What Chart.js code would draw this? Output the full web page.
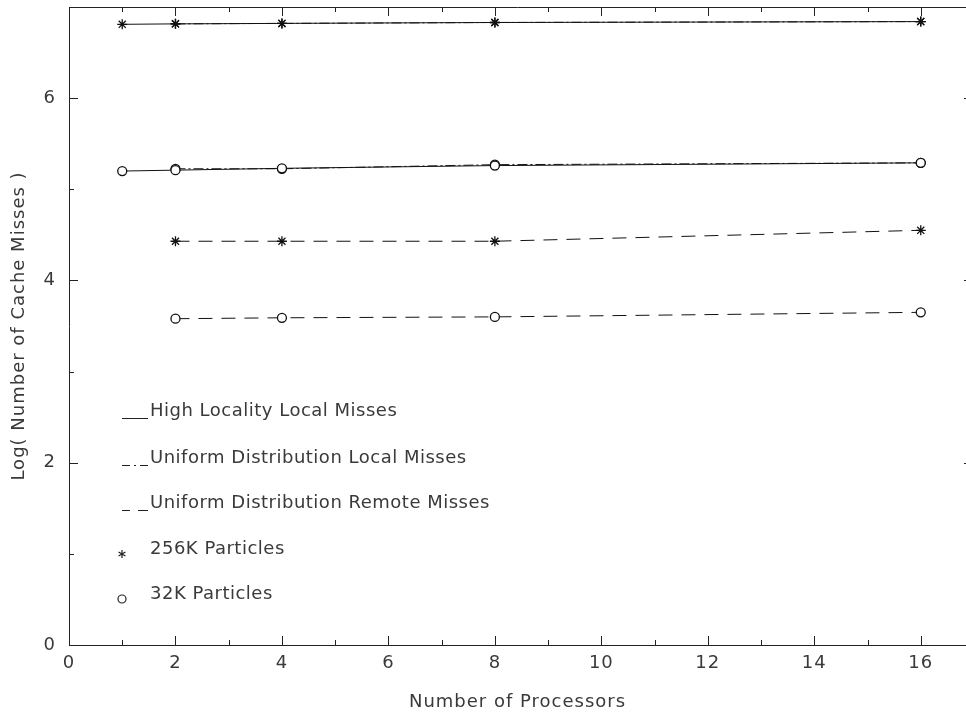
<!DOCTYPE html>
<html>
<head>
<meta charset="utf-8">
<script src="https://cdn.jsdelivr.net/npm/chart.js@4/dist/chart.umd.min.js"></script>
<style>
  body { margin: 0; background: #fff; }
  #wrap { width: 966px; height: 712px; }
</style>
</head>
<body>
<div id="wrap"><canvas id="graph-canvas" width="966" height="712"></canvas></div>
<script>
// processor counts
const procsAll = [1, 2, 4, 8, 16];
const procsUniform = [2, 4, 8, 16];

// log(cache misses), 256K particles
const highLocal256 = [6.81, 6.815, 6.82, 6.83, 6.84];
const uniLocal256 = [6.815, 6.82, 6.83, 6.84];
const uniRemote256 = [4.43, 4.43, 4.43, 4.55];

// log(cache misses), 32K particles
const highLocal32 = [5.20, 5.21, 5.23, 5.26, 5.29];
const uniLocal32 = [5.225, 5.225, 5.27, 5.29];
const uniRemote32 = [3.58, 3.59, 3.60, 3.65];

const xTickLabels = [0, 2, 4, 6, 8, 10, 12, 14, 16];
const yTickLabels = [0, 2, 4, 6];

const legendLabels = [
  "High Locality Local Misses",
  "Uniform Distribution Local Misses",
  "Uniform Distribution Remote Misses",
  "256K Particles",
  "32K Particles"
];

const FONT = "'DejaVu Sans', sans-serif";
const INK = "#3a3a3a";

const pts = (xs, ys) => xs.map((x, i) => ({ x: x, y: ys[i] }));

const solid = [];
const dashDot = [10, 3, 2, 3];
const dashed = [14, 9];

const mkSet = (label, xs, ys, dash, marker) => ({
  label: label,
  data: pts(xs, ys),
  borderColor: "#111",
  backgroundColor: "rgba(0,0,0,0)",
  borderWidth: 1,
  borderDash: dash,
  pointStyle: marker,
  pointRadius: marker === "star" ? 5 : 4.5,
  pointBorderColor: "#111",
  pointBorderWidth: 1.3,
  pointBackgroundColor: "#fff",
  tension: 0
});

// wider letter spacing, like the plotter font of the original
const spacing = {
  id: "spacing",
  beforeDraw(chart) { chart.ctx.letterSpacing = "1px"; },
  afterDraw(chart) { chart.ctx.letterSpacing = "0px"; }
};

// tick marks, top border and hand-drawn legend
const frameAndLegend = {
  id: "frameAndLegend",
  afterDatasetsDraw(chart) {
    const { ctx, chartArea: a, scales: { x, y } } = chart;
    ctx.save();
    ctx.strokeStyle = "#222";
    ctx.lineWidth = 1;
    ctx.beginPath();
    ctx.moveTo(a.left, a.top + 0.5);
    ctx.lineTo(a.right, a.top + 0.5);
    for (let v = 1; v <= 16; v++) {
      const px = Math.round(x.getPixelForValue(v)) + 0.5;
      const len = v % 2 === 0 ? 9 : 5;
      ctx.moveTo(px, a.bottom);
      ctx.lineTo(px, a.bottom - len);
      ctx.moveTo(px, a.top);
      ctx.lineTo(px, a.top + len);
    }
    for (let v = 1; v <= 6; v++) {
      const py = Math.round(y.getPixelForValue(v)) + 0.5;
      const len = v % 2 === 0 ? 9 : 5;
      ctx.moveTo(a.left, py);
      ctx.lineTo(a.left + len, py);
      if (v % 2 === 0) {
        ctx.moveTo(a.right, py);
        ctx.lineTo(a.right - 2, py);
      }
    }
    ctx.stroke();

    // legend
    const lx = 122, tx = 150;
    const rows = [411, 458, 503, 549, 594];
    ctx.font = "18px " + FONT;
    ctx.letterSpacing = "0.5px";
    ctx.fillStyle = INK;
    ctx.textBaseline = "middle";
    ctx.textAlign = "left";
    legendLabels.forEach((t, i) => ctx.fillText(t, tx, rows[i]));

    ctx.strokeStyle = "#222";
    const base = (r) => r + 7.5;
    const seg = (x0, x1, r) => {
      ctx.beginPath();
      ctx.moveTo(x0, base(r));
      ctx.lineTo(x1, base(r));
      ctx.stroke();
    };
    seg(lx, 148, rows[0]);
    seg(lx, 130, rows[1]);
    seg(134, 136, rows[1]);
    seg(140, 148, rows[1]);
    seg(lx, 130, rows[2]);
    seg(138, 148, rows[2]);

    // markers
    ctx.lineWidth = 1.2;
    const sx = 122, sy = rows[3] + 5;
    ctx.beginPath();
    for (let k = 0; k < 3; k++) {
      const ang = Math.PI / 2 + k * Math.PI / 3;
      ctx.moveTo(sx + 4 * Math.cos(ang), sy + 4 * Math.sin(ang));
      ctx.lineTo(sx - 4 * Math.cos(ang), sy - 4 * Math.sin(ang));
    }
    ctx.stroke();
    ctx.beginPath();
    ctx.arc(122, rows[4] + 5, 4, 0, Math.PI * 2);
    ctx.stroke();
    ctx.restore();
  }
};

const ctx = document.getElementById("graph-canvas").getContext("2d");

new Chart(ctx, {
  type: "line",
  data: {
    datasets: [
      mkSet("256K high locality local", procsAll, highLocal256, solid, "star"),
      mkSet("256K uniform local", procsUniform, uniLocal256, dashDot, "star"),
      mkSet("256K uniform remote", procsUniform, uniRemote256, dashed, "star"),
      mkSet("32K high locality local", procsAll, highLocal32, solid, "circle"),
      mkSet("32K uniform local", procsUniform, uniLocal32, dashDot, "circle"),
      mkSet("32K uniform remote", procsUniform, uniRemote32, dashed, "circle")
    ]
  },
  options: {
    responsive: false,
    maintainAspectRatio: false,
    animation: false,
    layout: { autoPadding: false, padding: { top: 7, right: 0, left: 0, bottom: 0 } },
    plugins: {
      legend: { display: false },
      tooltip: { enabled: false },
      title: { display: false }
    },
    scales: {
      x: {
        type: "linear",
        min: 0,
        max: 16.85,
        afterFit: (s) => {
          s.height = 67;
          s.paddingLeft = 0;
          s.paddingRight = 0;
        },
        afterBuildTicks: (s) => {
          s.ticks = xTickLabels.map((v) => ({ value: v }));
        },
        grid: { display: false, drawTicks: false },
        border: { display: true, color: "#222", width: 1 },
        ticks: {
          padding: 8,
          color: INK,
          font: { family: FONT, size: 18 },
          maxRotation: 0,
          autoSkip: false
        },
        title: {
          display: true,
          text: "Number of Processors",
          color: INK,
          font: { family: FONT, size: 18 },
          padding: { top: 0, bottom: -1 }
        }
      },
      y: {
        type: "linear",
        min: 0,
        max: 7,
        afterFit: (s) => {
          s.width = 69;
          s.paddingTop = 0;
          s.paddingBottom = 0;
        },
        afterBuildTicks: (s) => {
          s.ticks = yTickLabels.map((v) => ({ value: v }));
        },
        grid: { display: false, drawTicks: false },
        border: { display: true, color: "#222", width: 1 },
        ticks: {
          padding: 13,
          color: INK,
          font: { family: FONT, size: 18 }
        },
        title: {
          display: true,
          text: "Log( Number of Cache Misses )",
          color: INK,
          font: { family: FONT, size: 18 },
          padding: { top: 9, bottom: 0 }
        }
      }
    }
  },
  plugins: [spacing, frameAndLegend]
});
</script>
</body>
</html>
